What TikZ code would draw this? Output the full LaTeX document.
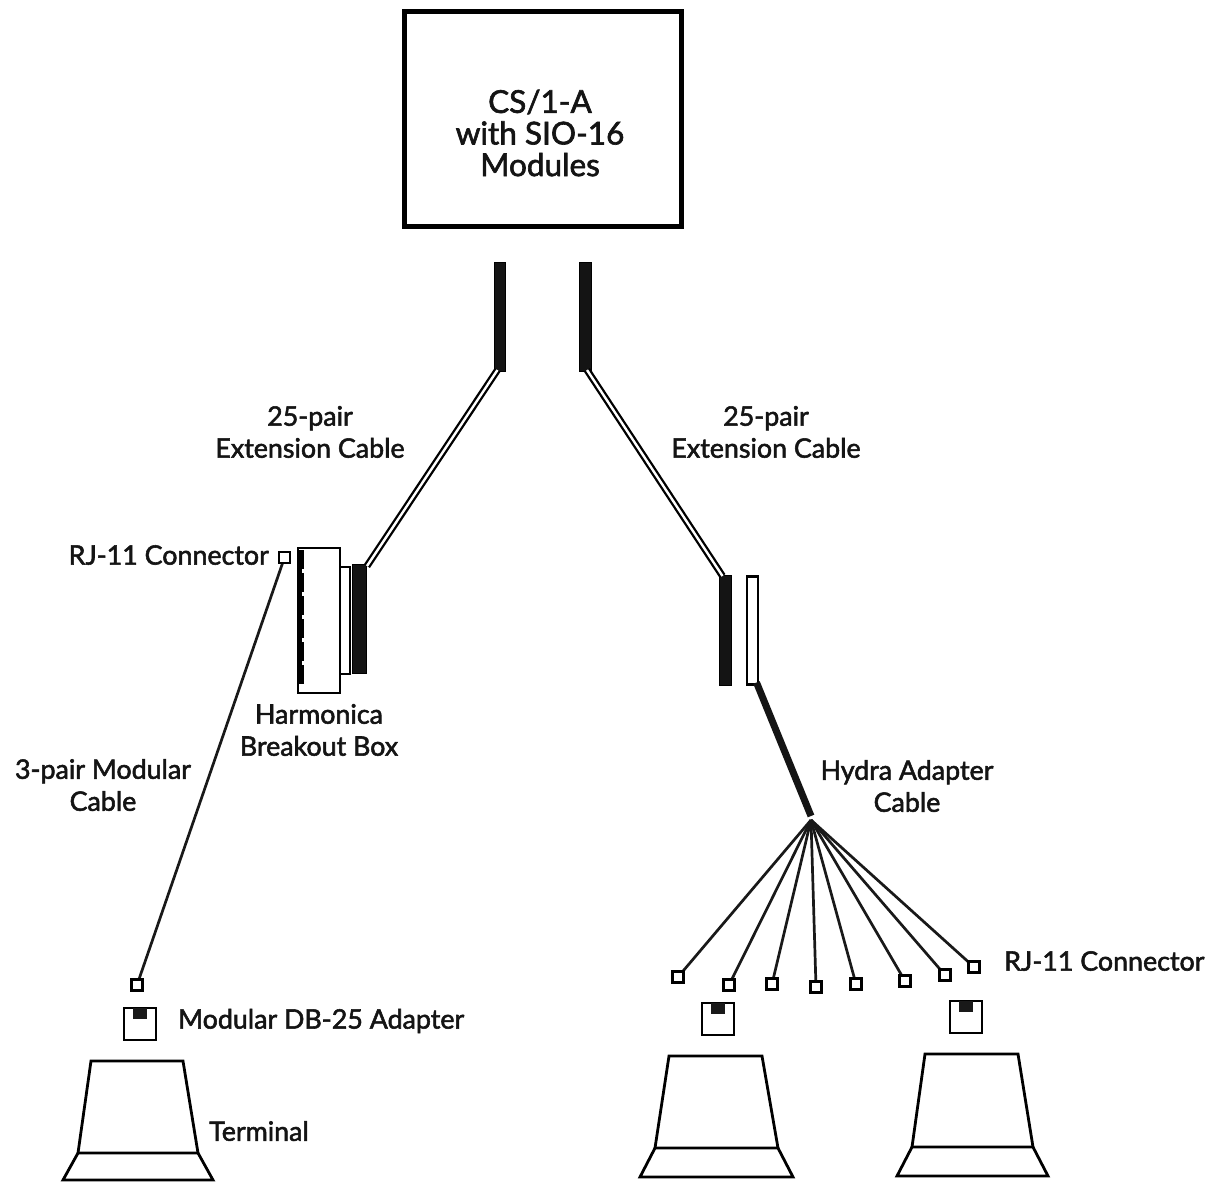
\documentclass[tikz,border=0pt]{standalone}
\usepackage{fontspec}
\usetikzlibrary{calc}
\setmainfont{Lato}
\newfontfamily\medfont[FakeBold=2]{Lato}
\begin{document}
\begin{tikzpicture}[x=1pt,y=-1pt,
  lbl/.style={font=\medfont\fontsize{26.8}{32}\selectfont,align=center,inner sep=0pt,text=black!92},
  big/.style={font=\medfont\fontsize{31.5}{32}\selectfont,align=center,inner sep=0pt,text=black!92},
  conn/.style={draw=black,line width=2.4pt,fill=white,minimum size=11pt,inner sep=0pt,outer sep=0pt},
  solidbar/.style={draw=black,fill=black!92,inner sep=0pt,outer sep=0pt},
  hollowbar/.style={draw=black,line width=2.2pt,fill=white,inner sep=0pt,outer sep=0pt},
  wire/.style={line width=2.7pt,draw=black!90},
  ext/.style={draw=black,line width=2.3pt,double=white,double distance=2.4pt},
  term/.style={draw=black,line width=2.8pt,line join=miter},
  adapter/.style={draw=black,line width=2.8pt,fill=white,minimum size=32pt,inner sep=0pt,outer sep=0pt}]
\useasboundingbox (0,0) rectangle (1209,1181);
\fill[white] (0,0) rectangle (1209,1181);

% main unit
\node[draw=black,line width=5pt,minimum width=277pt,minimum height=215pt,inner sep=0pt] (cs) at (543,118.5) {};
\node[big] (cst) at (540,133) {CS/1-A\\[-0.4pt]with SIO-16\\[-0.4pt]Modules};

% top connectors
\node[solidbar,minimum width=11pt,minimum height=109pt] (tl) at (499.5,316.5) {};
\node[solidbar,minimum width=12pt,minimum height=109pt] (tr) at (585,316.5) {};

% harmonica
\node[draw=black,line width=2.4pt,fill=white,minimum width=42pt,minimum height=145pt,inner sep=0pt,outer sep=0pt] (harm) at (319,620.5) {};
\draw[line width=4pt] ($(harm.north west)+(2,2)$) -- ($(harm.south west)+(2,-9)$);
\draw[line width=6.5pt,dash pattern=on 19pt off 4pt] ($(harm.north west)+(3.2,2)$) -- ($(harm.south west)+(3.2,-9)$);
\node[hollowbar,minimum width=10pt,minimum height=107pt,anchor=west] (hmid) at (harm.east) {};
\node[solidbar,minimum width=14pt,minimum height=109pt] (hbar) at (359,618.5) {};
\draw[ext] ($(hbar.north east)+(1,2)$) -- ($(tl.south)+(-2,-1)$);

% right cable
\node[solidbar,minimum width=12pt,minimum height=110pt] (rbar) at (725.5,630) {};
\node[hollowbar,minimum width=11pt,minimum height=108pt] (rwhite) at (752.5,630.5) {};
\draw[ext] ($(tr.south)+(2,-1)$) -- ($(rbar.north)+(-3,1)$);
\coordinate (hub) at (811,816);
\draw[line width=7pt,draw=black!92] ($(rwhite.south)+(4,-2)$) -- (hub);

% left wire
\coordinate (rjc) at (284.5,557.5);
\coordinate (rjbc) at (137,985);
\draw[wire] (rjc) -- (rjbc);
\node[conn] (rj) at (rjc) {};
\node[conn] (rjb) at (rjbc) {};

% fan
\coordinate (fan) at (811,820);
\foreach \n/\x/\y in {a/678/977,b/729/985,c/772/984,d/816/987,e/856/984,f/905/981,g/945/975,h/974/967}{
  \draw[wire] (fan) -- (\x,\y);
  \node[conn] (\n) at (\x,\y) {};
}

% adapters
\foreach \n/\x/\y in {adl/140/1024,adm/718/1019,adr/966/1017}{
  \node[adapter] (\n) at (\x,\y) {};
  \fill[black!90] (\x-7,\y-16) rectangle (\x+7,\y-5);
}

% terminals
\draw[term] (91,1061) -- (183,1061) -- (198,1153) -- (78,1153) -- cycle;
\draw[term] (78,1153) -- (63,1180) -- (213,1180) -- (198,1153);

\draw[term] (669,1056) -- (762,1056) -- (778,1148) -- (655,1148) -- cycle;
\draw[term] (655,1148) -- (640,1177) -- (793,1177) -- (778,1148);

\draw[term] (925,1054) -- (1018,1054) -- (1033,1147) -- (912,1147) -- cycle;
\draw[term] (912,1147) -- (897,1176) -- (1048,1176) -- (1033,1147);

% labels
\node[lbl] (l1) at (310,432) {25-pair\\Extension Cable};
\node[lbl] (l2) at (766,432) {25-pair\\Extension Cable};
\node[lbl,anchor=east] (l3) at (269,555) {RJ-11 Connector};
\node[lbl] (l4) at (319,730) {Harmonica\\Breakout Box};
\node[lbl] (l5) at (103,785) {3-pair Modular\\Cable};
\node[lbl] (l6) at (907,786) {Hydra Adapter\\Cable};
\node[lbl,anchor=west] (l7) at (1004,961) {RJ-11 Connector};
\node[lbl,anchor=west] (l8) at (178,1021) {Modular DB-25 Adapter};
\node[lbl,anchor=west] (l9) at (209,1131) {Terminal};
\end{tikzpicture}
\end{document}
